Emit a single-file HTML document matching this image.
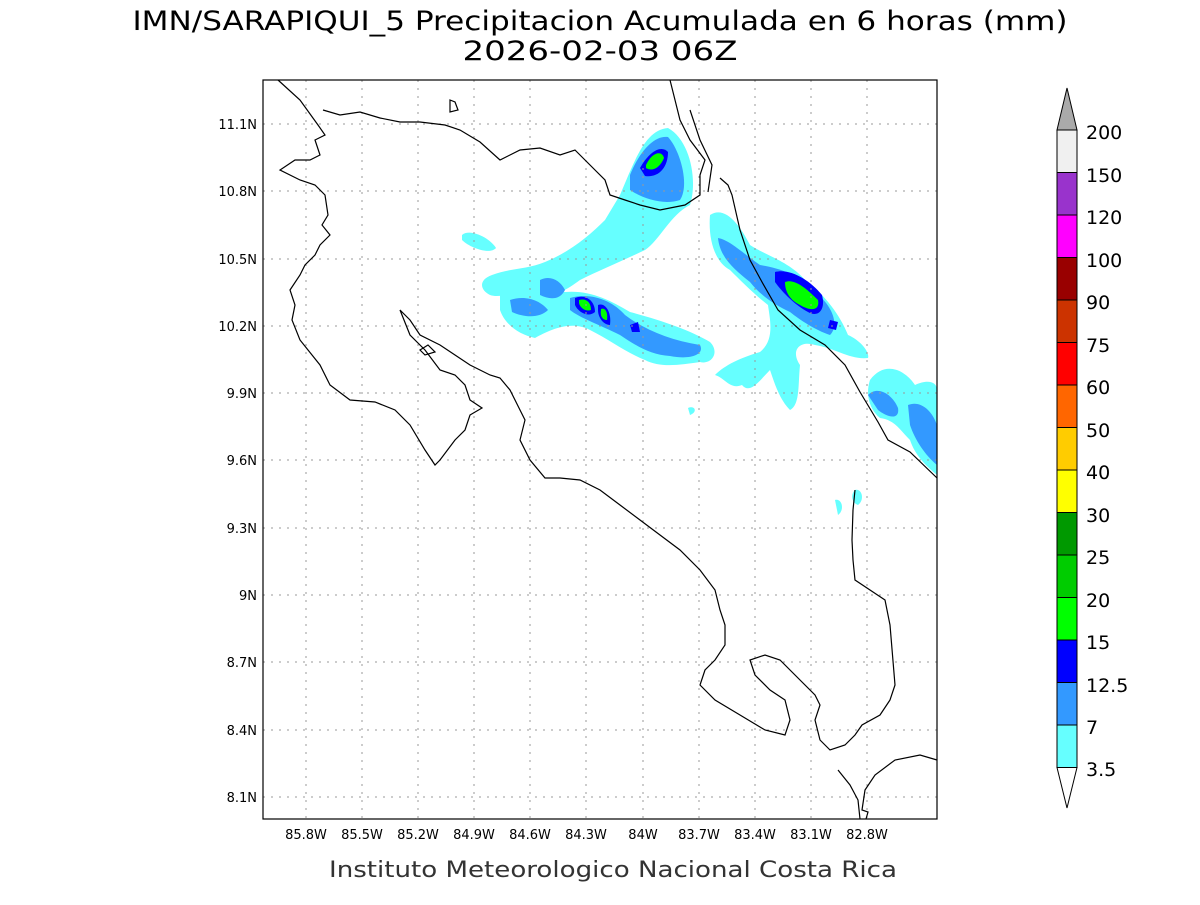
<!DOCTYPE html>
<html><head><meta charset="utf-8"><style>
body{margin:0;background:#fff;}
svg text{font-family:"DejaVu Sans","Liberation Sans",sans-serif;}
</style></head><body>
<svg width="1200" height="900" xmlns="http://www.w3.org/2000/svg">
<rect width="1200" height="900" fill="#fff"/>
<text x="600" y="30" font-size="27" text-anchor="middle" fill="#000" font-family="DejaVu Sans, sans-serif" textLength="935" lengthAdjust="spacingAndGlyphs">IMN/SARAPIQUI_5 Precipitacion Acumulada en 6 horas (mm)</text>
<text x="600" y="60" font-size="27" text-anchor="middle" fill="#000" textLength="275" lengthAdjust="spacingAndGlyphs">2026-02-03 06Z</text>

<!-- precip -->
<g stroke="none">
<path fill="#66ffff" d="M620,195 C635,160 645,130 668,128 C690,140 698,180 690,205 C670,215 660,240 645,250 C620,262 600,270 580,280 C560,295 545,300 530,290 C520,285 505,300 490,295 C480,290 478,280 492,275 C510,268 525,270 545,262 C570,252 590,235 605,220 Z"/>
<path fill="#66ffff" d="M462,235 C470,228 490,238 496,248 C490,255 470,248 462,240 Z"/>
<path fill="#66ffff" d="M500,290 C520,280 545,290 565,292 C590,290 610,300 630,312 C660,320 690,330 710,342 C720,352 712,365 700,362 C680,365 660,368 645,360 C625,352 610,340 590,330 C570,320 550,330 535,338 C520,335 505,325 500,310 Z"/>
<path fill="#66ffff" d="M710,215 C725,205 740,225 750,245 C765,255 790,262 805,280 C825,295 840,315 848,335 C860,340 870,352 868,358 C850,360 835,348 815,345 C800,340 790,350 800,365 C798,385 800,405 790,410 C780,400 775,385 770,370 C760,380 750,395 742,385 C730,390 725,378 715,375 C725,365 740,358 760,352 C775,340 770,320 768,305 C755,295 740,280 730,270 C715,262 708,240 710,215 Z"/>
<path fill="#66ffff" d="M870,380 C885,360 905,370 915,385 C925,380 937,380 937,390 L937,475 C925,465 915,455 910,440 C900,430 895,420 880,418 C870,410 865,395 870,380 Z"/>
<path fill="#66ffff" d="M855,490 C862,488 865,500 858,505 C852,503 850,495 855,490 Z"/>
<path fill="#66ffff" d="M688,408 C695,405 698,412 690,415 Z"/>
<path fill="#66ffff" d="M835,500 C842,498 845,510 838,515 Z"/>
<path fill="#3399ff" d="M630,175 C640,150 655,135 668,137 C680,150 690,185 680,200 C665,205 645,200 630,190 Z"/>
<path fill="#3399ff" d="M540,280 C550,275 560,280 565,290 C560,300 550,300 540,295 Z M510,300 C525,295 540,300 548,310 C540,318 525,318 512,312 Z"/>
<path fill="#3399ff" d="M570,298 C590,292 612,300 625,315 C645,330 670,340 700,345 C705,355 690,360 670,356 C650,355 635,345 620,335 C600,325 580,318 570,310 Z"/>
<path fill="#3399ff" d="M718,238 C730,240 745,255 760,265 C780,268 800,275 815,292 C832,305 840,325 830,335 C815,330 800,320 790,312 C775,305 760,295 750,282 C735,270 720,258 718,238 Z"/>
<path fill="#3399ff" d="M868,395 C878,385 893,395 898,408 C900,420 888,418 878,410 Z M908,405 C920,400 932,410 937,425 L937,465 C925,455 915,440 910,425 Z"/>
<path fill="#0000ff" d="M640,168 C650,150 662,145 668,152 C668,168 658,178 645,176 Z"/>
<path fill="#00ff00" d="M646,165 C652,152 662,150 664,158 C660,168 652,172 646,168 Z"/>
<path fill="#0000ff" d="M575,298 C585,294 595,300 595,312 C588,318 578,312 575,305 Z M598,305 C605,302 612,312 610,325 C604,325 598,318 598,310 Z"/>
<path fill="#00ff00" d="M579,300 C586,298 591,302 591,310 C586,312 580,308 579,303 Z M601,309 C606,307 608,314 607,320 C602,320 600,315 601,310 Z"/>
<path fill="#0000ff" d="M775,272 C790,268 810,280 822,295 C826,310 818,318 808,312 C795,305 782,292 775,282 Z M630,325 L638,322 L640,332 L632,332 Z M830,320 L838,322 L836,330 L828,328 Z"/>
<path fill="#00ff00" d="M785,282 C795,278 808,290 818,300 C820,310 812,312 800,305 C790,300 785,292 785,282 Z"/>
</g>

<!-- grid -->
<g stroke="#999" stroke-width="1" stroke-dasharray="2,6">
<line x1="306" y1="80" x2="306" y2="819"/><line x1="362" y1="80" x2="362" y2="819"/><line x1="418" y1="80" x2="418" y2="819"/><line x1="474" y1="80" x2="474" y2="819"/><line x1="530" y1="80" x2="530" y2="819"/><line x1="586" y1="80" x2="586" y2="819"/><line x1="643" y1="80" x2="643" y2="819"/><line x1="699" y1="80" x2="699" y2="819"/><line x1="755" y1="80" x2="755" y2="819"/><line x1="811" y1="80" x2="811" y2="819"/><line x1="867" y1="80" x2="867" y2="819"/>
<line x1="263" y1="124" x2="937" y2="124"/><line x1="263" y1="191" x2="937" y2="191"/><line x1="263" y1="259" x2="937" y2="259"/><line x1="263" y1="326" x2="937" y2="326"/><line x1="263" y1="393" x2="937" y2="393"/><line x1="263" y1="460" x2="937" y2="460"/><line x1="263" y1="528" x2="937" y2="528"/><line x1="263" y1="595" x2="937" y2="595"/><line x1="263" y1="662" x2="937" y2="662"/><line x1="263" y1="730" x2="937" y2="730"/><line x1="263" y1="797" x2="937" y2="797"/>
</g>

<!-- coast -->
<g fill="none" stroke="#000" stroke-width="1.2">
<path d="M278,80 L300,100 L318,125 L325,135 L315,140 L320,155 L310,160 L295,160 L280,170 L300,180 L315,185 L325,195 L328,215 L322,225 L330,235 L320,245 L315,255 L305,265 L300,275 L290,290 L295,305 L292,320 L300,340 L320,365 L330,385 L350,400 L375,402 L395,410 L410,425 L425,450 L435,465 L440,460 L455,440 L465,430 L470,415 L482,408 L470,400 L465,385 L455,375 L440,370 L425,350 L410,335 L400,310 L410,320 L420,335 L440,345 L455,355 L470,365 L490,375 L500,378 L510,390 L520,410 L525,420 L520,440 L530,460 L545,478 L560,478 L580,480 L600,490 L620,505 L640,520 L660,535 L680,550 L700,570 L715,590 L720,610 L725,625 L725,645 L715,660 L705,670 L700,685 L715,700 L740,715 L765,730 L785,735 L790,720 L785,700 L770,690 L755,675 L750,660 L765,655 L780,660 L800,680 L815,695 L820,705 L815,720 L820,740 L830,750 L845,745 L855,735 L862,725 L880,715 L890,700 L895,685 L890,625 L885,600 L870,590 L855,580 L853,560 L852,540 L853,510 L855,490"/>
<path d="M323,110 L340,115 L360,112 L380,118 L400,122 L420,122 L445,125 L460,130 L480,142 L500,160 L520,150 L540,148 L560,155 L575,150 L585,160 L595,170 L605,180 L610,195 L625,200 L640,205 L660,210 L685,205 L700,195 L700,175 L705,160 L690,140 L680,120 L675,100 L670,80"/>
<path d="M690,110 L700,140 L712,165 L708,192 M720,178 L728,185 L732,195 L740,230 L750,260 L762,282 L778,310 L800,330 L825,345 L845,365 L860,392 L878,422 L888,440 L910,452 L937,478"/>
<path d="M937,760 L920,755 L895,760 L875,775 L865,790 L862,810 L868,812 L866,819 M860,819 L858,800 L850,785 L838,770"/>
<path d="M420,350 L428,345 L435,352 L425,355 Z M450,100 L455,102 L458,110 L450,112 Z"/>
</g>
<rect x="263" y="80" width="674" height="739" fill="none" stroke="#000" stroke-width="1.2"/>

<!-- ticks -->
<g font-size="13" fill="#000" text-anchor="end">
<text x="257" y="129">11.1N</text><text x="257" y="196">10.8N</text><text x="257" y="264">10.5N</text><text x="257" y="331">10.2N</text><text x="257" y="398">9.9N</text><text x="257" y="465">9.6N</text><text x="257" y="533">9.3N</text><text x="257" y="600">9N</text><text x="257" y="667">8.7N</text><text x="257" y="735">8.4N</text><text x="257" y="802">8.1N</text>
</g>
<g font-size="13" fill="#000" text-anchor="middle">
<text x="306" y="839">85.8W</text><text x="362" y="839">85.5W</text><text x="418" y="839">85.2W</text><text x="474" y="839">84.9W</text><text x="530" y="839">84.6W</text><text x="586" y="839">84.3W</text><text x="643" y="839">84W</text><text x="699" y="839">83.7W</text><text x="755" y="839">83.4W</text><text x="811" y="839">83.1W</text><text x="867" y="839">82.8W</text>
</g>
<text x="613" y="877" font-size="22" text-anchor="middle" fill="#333" textLength="568" lengthAdjust="spacingAndGlyphs">Instituto Meteorologico Nacional Costa Rica</text>

<!-- colorbar -->
<g stroke="#000" stroke-width="1">
<polygon points="1057,130 1077,130 1067,88" fill="#aaaaaa"/>
<rect x="1057" y="130" width="20" height="42.5" fill="#f0f0f0"/>
<rect x="1057" y="172.5" width="20" height="42.5" fill="#9933cc"/>
<rect x="1057" y="215" width="20" height="42.5" fill="#ff00ff"/>
<rect x="1057" y="257.5" width="20" height="42.5" fill="#990000"/>
<rect x="1057" y="300" width="20" height="42.5" fill="#cc3300"/>
<rect x="1057" y="342.5" width="20" height="42.5" fill="#ff0000"/>
<rect x="1057" y="385" width="20" height="42.5" fill="#ff6600"/>
<rect x="1057" y="427.5" width="20" height="42.5" fill="#ffcc00"/>
<rect x="1057" y="470" width="20" height="42.5" fill="#ffff00"/>
<rect x="1057" y="512.5" width="20" height="42.5" fill="#009900"/>
<rect x="1057" y="555" width="20" height="42.5" fill="#00cc00"/>
<rect x="1057" y="597.5" width="20" height="42.5" fill="#00ff00"/>
<rect x="1057" y="640" width="20" height="42.5" fill="#0000ff"/>
<rect x="1057" y="682.5" width="20" height="42.5" fill="#3399ff"/>
<rect x="1057" y="725" width="20" height="42.5" fill="#66ffff"/>
<polygon points="1057,767.5 1077,767.5 1067,808" fill="#fff"/>
</g>
<g font-size="19" fill="#000">
<text x="1086" y="139">200</text><text x="1086" y="182">150</text><text x="1086" y="224">120</text><text x="1086" y="267">100</text><text x="1086" y="309">90</text><text x="1086" y="352">75</text><text x="1086" y="394">60</text><text x="1086" y="437">50</text><text x="1086" y="479">40</text><text x="1086" y="522">30</text><text x="1086" y="564">25</text><text x="1086" y="607">20</text><text x="1086" y="649">15</text><text x="1086" y="692">12.5</text><text x="1086" y="734">7</text><text x="1086" y="776">3.5</text>
</g>
</svg>
</body></html>
